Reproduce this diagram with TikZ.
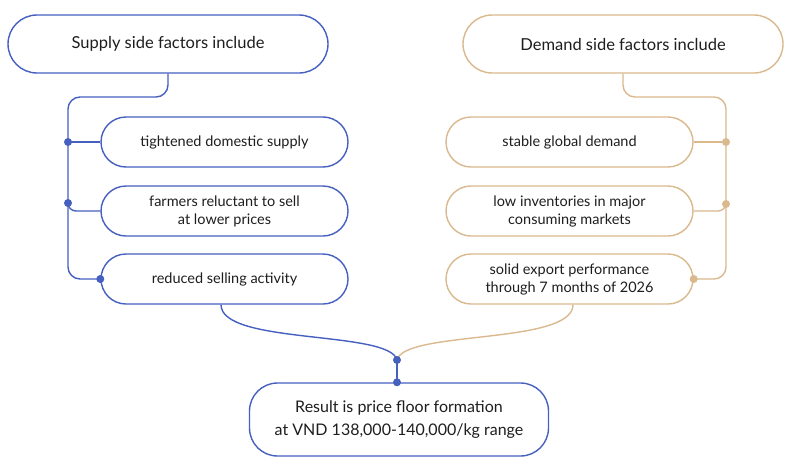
\documentclass[tikz,border=0pt]{standalone}
\usepackage{fontspec}
\setmainfont{Lato}
\definecolor{supblue}{HTML}{4660C0}
\definecolor{demtan}{HTML}{D9B98D}
\definecolor{txtgray}{HTML}{1E1E1E}
\tikzset{
  pill/.style={draw=#1, line width=1.4pt, fill=white, rounded corners=25pt,
    minimum width=247pt, minimum height=50pt, align=center,
    font=\fontsize{14.5}{18}\selectfont, text=txtgray},
  headpill/.style={pill=#1, rounded corners=29pt, minimum width=320pt,
    minimum height=58pt, font=\fontsize{16.5}{20}\selectfont},
  link/.style={line width=1.4pt, draw=#1},
  dot/.style={circle, fill=#1, inner sep=0pt, minimum size=8pt}
}

\begin{document}
\begin{tikzpicture}[x=1pt, y=-1pt]
  \useasboundingbox (0,0) rectangle (791,471);
  % headers
  \node[headpill=supblue] (sup) at (168,44) {Supply side factors include};
  \node[headpill=demtan] (dem) at (623,44) {Demand side factors include};
  % supply side
  \node[pill=supblue] (tig) at (224.5,142) {tightened domestic supply};
  \node[pill=supblue] (far) at (224.5,211) {farmers reluctant to sell\\at lower prices};
  \node[pill=supblue] (red) at (224.5,279) {reduced selling activity};
  % demand side
  \node[pill=demtan] (sta) at (569.5,142) {stable global demand};
  \node[pill=demtan] (low) at (569.5,211) {low inventories in major\\consuming markets};
  \node[pill=demtan] (sol) at (569.5,279) {solid export performance\\through 7 months of 2026};
  % result
  \node[pill=supblue, rounded corners=28pt, minimum width=299pt, minimum height=73pt,
    font=\fontsize{16}{23}\selectfont] (res) at (399,419.5)
    {Result is price floor formation\\at VND 138,000-140,000/kg range};

  \coordinate (sj1) at (68,142);
  \coordinate (sj2) at (68,203);
  \coordinate (dj1) at (726,142);
  \coordinate (dj2) at (726,204);
  \coordinate (mid) at (397,360);

  % supply tree
  \draw[link=supblue, rounded corners=12pt] (sup.south) -- (168,97) -- (68,97) |- (red.west);
  \draw[link=supblue] (sj1) -- (tig.west);
  \draw[link=supblue, rounded corners=8pt] (sj2) |- (far.west);
  \node[dot=supblue] at (sj1) {};
  \node[dot=supblue] at (sj2) {};
  \node[dot=supblue] at (red.west) {};

  % demand tree
  \draw[link=demtan, rounded corners=12pt] (dem.south) -- (623,97) -- (726,97) |- (sol.east);
  \draw[link=demtan] (dj1) -- (sta.east);
  \draw[link=demtan, rounded corners=8pt] (dj2) |- (low.east);
  \node[dot=demtan] at (dj1) {};
  \node[dot=demtan] at (dj2) {};
  \node[dot=demtan] at (sol.east) {};

  % merge into result
  \draw[link=supblue] (red.south -| 221,0) .. controls (221,345) and (390,330) .. (mid);
  \draw[link=demtan] (sol.south -| 573,0) .. controls (573,345) and (404,330) .. (mid);
  \draw[link=supblue] (mid) -- (res.north -| mid);
  \node[dot=supblue] at (mid) {};
  \node[dot=supblue] at (res.north -| mid) {};
\end{tikzpicture}
\end{document}
